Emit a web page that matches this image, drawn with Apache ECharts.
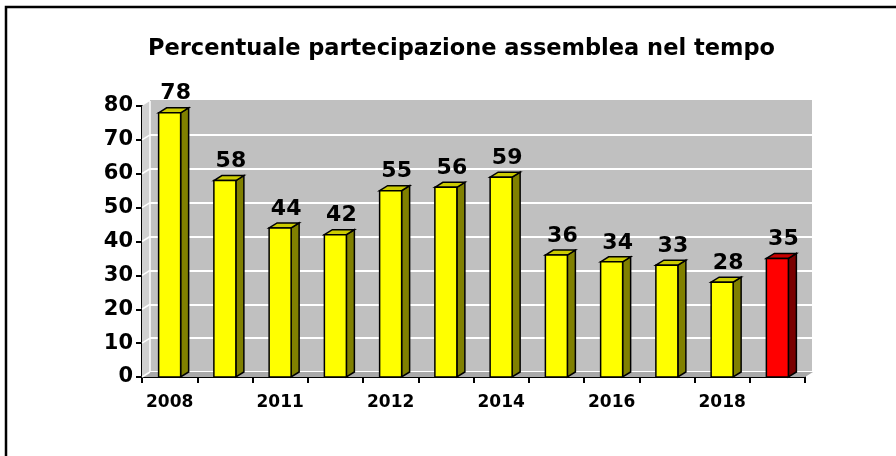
<!DOCTYPE html>
<html>
    <head>
        <meta charset="utf-8">
        <title>Percentuale partecipazione assemblea nel tempo</title>
        <style>
            html, body { margin: 0; padding: 0; background: #fff; }
            #chart1 { width: 896px; height: 456px; }
        </style>
    </head>
    <body>
        <div id="chart1"></div>
        <script src="https://cdn.jsdelivr.net/npm/echarts@6/dist/echarts.min.js"></script>
        <script type="text/javascript">
            // data
            var categories = ['2008', '2010', '2011', '2011 II', '2012', '2013', '2014', '2015', '2016', '2017', '2018', '2019'];
            var values = [78, 58, 44, 42, 55, 56, 59, 36, 34, 33, 28, 35];
            var yMin = 0, yMax = 80, yStep = 10;

            // fake 3d depth
            var DX = 8, DY = 5;
            var FONT = '"DejaVu Sans", sans-serif';

            function renderBar(params, api) {
                var idx = api.value(0);
                var val = api.value(1);
                var top = api.coord([idx, val]);
                var base = api.coord([idx, 0]);
                var half = 11;
                var xl = top[0] - half, xr = top[0] + half;
                var last = params.dataIndex === values.length - 1;
                var face = last ? '#ff0000' : '#ffff00';
                var side = last ? '#7a0000' : '#808000';
                var cap = last ? '#c80000' : '#cccc00';
                var line = { stroke: '#000', lineWidth: 1.5 };
                return {
                    type: 'group',
                    children: [
                        { type: 'polygon', shape: { points: [[xr, top[1]], [xr + DX, top[1] - DY], [xr + DX, base[1] - DY], [xr, base[1]]] },
                          style: Object.assign({ fill: side }, line) },
                        { type: 'polygon', shape: { points: [[xl, top[1]], [xl + DX, top[1] - DY], [xr + DX, top[1] - DY], [xr, top[1]]] },
                          style: Object.assign({ fill: cap }, line) },
                        { type: 'rect', shape: { x: xl, y: top[1], width: half * 2, height: base[1] - top[1] },
                          style: Object.assign({ fill: face }, line) },
                        { type: 'text', style: { text: String(val), x: top[0] + 6, y: top[1] - DY - 3, align: 'center', verticalAlign: 'bottom',
                          font: 'bold 22px ' + FONT, fill: '#000' } }
                    ]
                };
            }

            // floor and left side of the box
            function renderBox(params, api) {
                var bw = api.size([1, 0])[0];
                var p0 = api.coord([0, yMin]);
                var pN = api.coord([values.length - 1, yMin]);
                var left = p0[0] - bw / 2, right = pN[0] + bw / 2;
                var y0 = p0[1], yTop = api.coord([0, yMax])[1];
                var kids = [
                    { type: 'polygon', shape: { points: [[left, y0], [right, y0], [right + DX, y0 - DY], [left + DX, y0 - DY]] },
                      style: { fill: '#a9a9a9' } },
                    { type: 'polygon', shape: { points: [[left, y0], [left, yTop], [left + DX, yTop - DY], [left + DX, y0 - DY]] },
                      style: { fill: '#d0d0d0' } }
                ];
                for (var v = yMin; v < yMax; v += yStep) {
                    var y = api.coord([0, v])[1];
                    kids.push({ type: 'line', shape: { x1: left, y1: y, x2: left + DX, y2: y - DY },
                                style: { stroke: '#fff', lineWidth: 1.5 } });
                }
                kids.push({ type: 'line', shape: { x1: left + DX, y1: yTop - DY, x2: left + DX, y2: y0 - DY },
                            style: { stroke: '#fff', lineWidth: 1.5 } });
                return { type: 'group', children: kids };
            }

            var wallLines = [];
            for (var v = yMin; v < yMax; v += yStep) wallLines.push('#ffffff');
            wallLines.push('#c0c0c0');

            var chart = echarts.init(document.getElementById('chart1'));
            chart.setOption({
                animation: false,
                backgroundColor: '#fff',
                title: {
                    text: 'Percentuale partecipazione assemblea nel tempo',
                    left: 143,
                    top: 33,
                    textStyle: { fontFamily: FONT, fontWeight: 'bold', fontSize: 22.5, color: '#000' }
                },
                graphic: [{
                    type: 'rect', z: 100,
                    shape: { x: 6, y: 7, width: 1000, height: 1000 },
                    style: { fill: 'none', stroke: '#000', lineWidth: 2.5 }
                }],
                grid: [
                    { left: 150, right: 84, top: 101, bottom: 84, show: true, backgroundColor: '#c0c0c0', borderWidth: 0, outerBoundsMode: 'none' },
                    { left: 142, right: 91, top: 106, bottom: 79, outerBoundsMode: 'none' }
                ],
                xAxis: [
                    { gridIndex: 0, type: 'category', data: categories, show: false },
                    {
                        gridIndex: 1, type: 'category', data: categories,
                        axisLine: { lineStyle: { color: '#000', width: 2 } },
                        axisTick: { show: true, interval: 0, length: 6, lineStyle: { color: '#000', width: 2 } },
                        axisLabel: { interval: 1, margin: 17, color: '#000', fontFamily: FONT, fontWeight: 'bold', fontSize: 17 },
                        splitLine: { show: false }
                    }
                ],
                yAxis: [
                    {
                        gridIndex: 0, type: 'value', min: yMin, max: yMax, interval: yStep,
                        axisLine: { show: false }, axisTick: { show: false }, axisLabel: { show: false },
                        splitLine: { show: true, lineStyle: { color: wallLines, width: 2 } }
                    },
                    {
                        gridIndex: 1, type: 'value', min: yMin, max: yMax, interval: yStep,
                        axisLine: { show: true, lineStyle: { color: '#000', width: 2 } },
                        axisTick: { show: true, length: 6, lineStyle: { color: '#000', width: 2 } },
                        axisLabel: { margin: 9, color: '#000', fontFamily: FONT, fontWeight: 'bold', fontSize: 21 },
                        splitLine: { show: false }
                    }
                ],
                series: [
                    {
                        type: 'custom', name: 'box', xAxisIndex: 1, yAxisIndex: 1, z: 1,
                        renderItem: renderBox, data: [[0, 0]], silent: true
                    },
                    {
                        type: 'custom', name: 'Partecipazione', xAxisIndex: 1, yAxisIndex: 1, z: 3,
                        renderItem: renderBar,
                        data: values.map(function (val, i) { return [i, val]; })
                    }
                ]
            });
        </script>
    </body>
</html>
